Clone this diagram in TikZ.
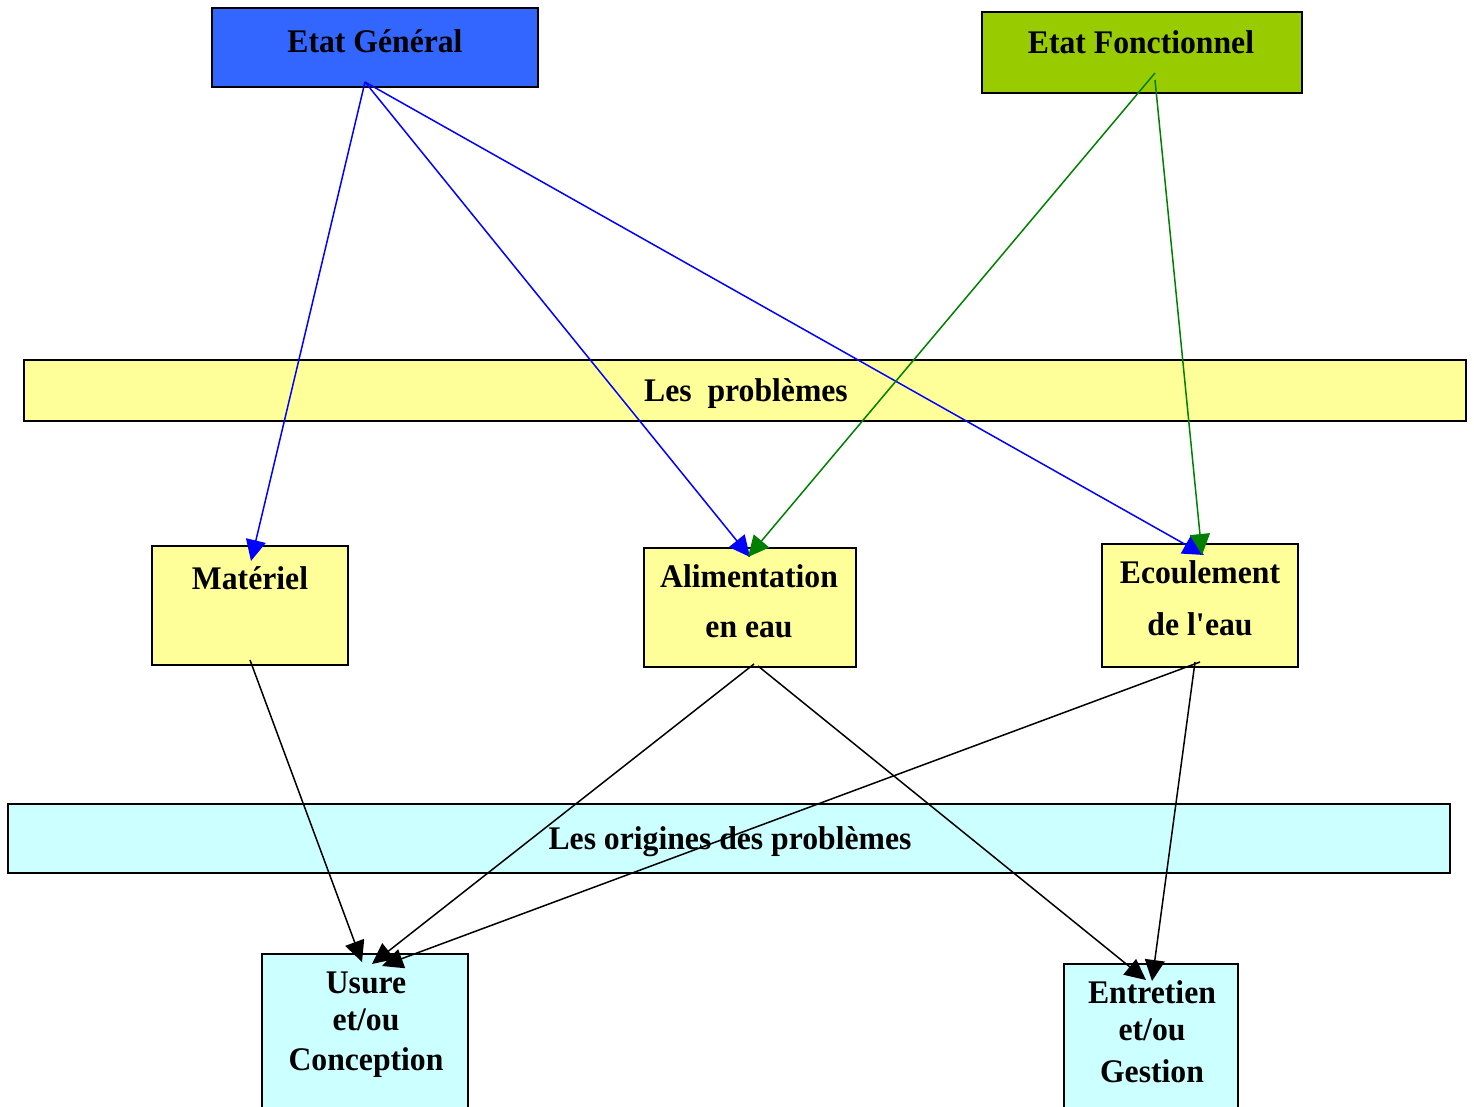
\documentclass[tikz,border=0pt]{standalone}
\usepackage{fontspec}
\setmainfont{Liberation Serif}[FakeStretch=0.96]
\usetikzlibrary{arrows.meta}
\definecolor{gblue}{HTML}{3366FF}
\definecolor{fgreen}{HTML}{99CC00}
\definecolor{pyellow}{HTML}{FFFF99}
\definecolor{pcyan}{HTML}{CCFFFF}
\definecolor{agreen}{HTML}{008000}
\begin{document}
\begin{tikzpicture}[x=1pt,y=-1pt,
  box/.style={draw=black,line width=1.6pt},
  lbl/.style={font=\fontsize{33}{38}\selectfont\bfseries,anchor=base,inner sep=0pt},
  conn/.style={line width=1.5pt,-{Triangle[length=21pt,width=20pt]}},
  bconn/.style={conn,blue},
  gconn/.style={conn,agreen},
  kconn/.style={conn,black},
]
\useasboundingbox (0,0) rectangle (1474,1106);
% boxes
\path[box,fill=gblue] (212,8) rectangle (538,87);
\path[box,fill=fgreen] (982,12) rectangle (1302,93);
\path[box,fill=pyellow] (24,360) rectangle (1466,421);
\path[box,fill=pyellow] (152,546) rectangle (348,665);
\path[box,fill=pyellow] (644,548) rectangle (856,667);
\path[box,fill=pyellow] (1102,544) rectangle (1298,667);
\path[box,fill=pcyan] (8,804) rectangle (1450,873);
\path[box,fill=pcyan] (262,954) rectangle (468,1120);
\path[box,fill=pcyan] (1064,964) rectangle (1238,1120);
% labels
\node[lbl] (eg) at (375,52) {Etat Général};
\node[lbl] (ef) at (1141,53) {Etat Fonctionnel};
\node[lbl] (lp) at (746,401) {Les\ \ problèmes};
\node[lbl] (mat) at (250,589) {Matériel};
\node[lbl] (ali) at (749,587) {Alimentation};
\node[lbl] (ali2) at (749,637) {en eau};
\node[lbl] (eco) at (1200,583) {Ecoulement};
\node[lbl] (eco2) at (1200,635) {de l\textquotesingle eau};
\node[lbl] (lo) at (730,849) {Les origines des problèmes};
\node[lbl] (usu) at (366,993) {Usure};
\node[lbl] (usu2) at (366,1030) {et/ou};
\node[lbl] (usu3) at (366,1070) {Conception};
\node[lbl] (ent) at (1152,1003) {Entretien};
\node[lbl] (ent2) at (1152,1040) {et/ou};
\node[lbl] (ent3) at (1152,1082) {Gestion};
% connector end points
\coordinate (egout) at (365,82);
\coordinate (efout) at (1155,73);
\coordinate (efout2) at (1155,80);
\coordinate (matin) at (251,561);
\coordinate (aliin) at (750,557);
\coordinate (aliin2) at (748,557);
\coordinate (ecoin) at (1204,555);
\coordinate (ecoin2) at (1202,555);
\coordinate (matout) at (250,660);
\coordinate (aliout) at (754,664);
\coordinate (aliout2) at (758,666);
\coordinate (ecoout) at (1200,662);
\coordinate (ecoout2) at (1195,662);
\coordinate (usuin1) at (362,962);
\coordinate (usuin2) at (372,964);
\coordinate (usuin3) at (382,966);
\coordinate (entin1) at (1146,980);
\coordinate (entin2) at (1152,981);
% connectors
\draw[bconn] (egout) -- (matin);
\draw[bconn] (egout) -- (aliin);
\draw[bconn] (egout) -- (ecoin);
\draw[gconn] (efout) -- (aliin2);
\draw[gconn] (efout2) -- (ecoin2);
\draw[kconn] (matout) -- (usuin1);
\draw[kconn] (aliout) -- (usuin2);
\draw[kconn] (aliout2) -- (entin1);
\draw[kconn] (ecoout) -- (usuin3);
\draw[kconn] (ecoout2) -- (entin2);
\end{tikzpicture}
\end{document}
